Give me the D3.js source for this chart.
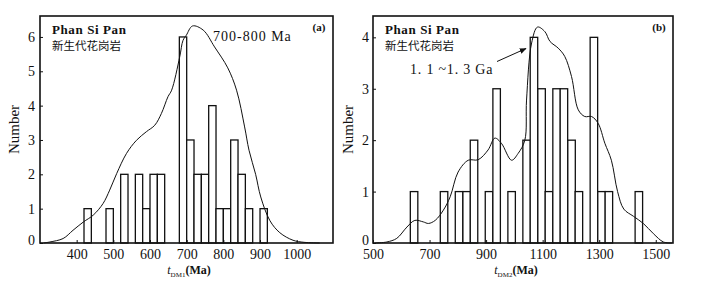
<!DOCTYPE html>
<html><head><meta charset="utf-8">
<script src="https://cdn.jsdelivr.net/npm/d3@7"></script>
<style>
body{margin:0;background:#fff;}
svg text{font-family:"Liberation Serif","Times New Roman",serif;fill:#111;}
</style></head>
<body><svg id="c" width="718" height="292"></svg>
<script>
// ---- Panel (a): tDM1 ----
const binStartA = [420,480,520,560,580,600,620,680,700,720,740,760,780,800,820,840,860,900];
const countA    = [1,1,2,2,1,2,2,6,3,2,2,4,1,1,3,2,1,1];
const binWidthA = 20;
const curveXA = [310,327,363,390,418,445,472,490,509,536,563,590,613,631,649,659,681,690,699,716,745,776,812,836,858,870,888,902,927,954,990,1020,1063];
const curveYA = [0,0.03,0.13,0.37,0.61,0.81,1.15,1.54,2.02,2.61,2.99,3.24,3.43,3.77,4.26,4.45,5.42,5.9,6.05,6.32,6.2,5.71,5.1,4.45,3.38,2.7,2.0,1.34,0.65,0.3,0.08,0.02,0];
const xTicksA = [400,500,600,700,800,900,1000];
const yTicksA = [0,1,2,3,4,5,6];

// ---- Panel (b): tDM2 ----
const binStartB = [632,738,791,818,844,897,924,977,1030,1056,1083,1109,1136,1162,1189,1215,1268,1295,1321,1427];
const countB    = [1,1,1,1,2,1,3,1,2,4,3,1,3,3,2,1,4,1,1,1];
const binWidthB = 26.5;
const curveXB = [508,549,584,620,648,678,696,720,749,773,801,837,872,907,931,954,990,1013,1037,1043,1061,1082,1108,1126,1155,1178,1202,1226,1249,1273,1296,1320,1343,1365,1387,1421,1456,1492,1527,1557];
const curveYB = [0,0.02,0.09,0.31,0.44,0.41,0.38,0.44,0.64,0.9,1.38,1.61,1.62,1.81,2.04,1.94,1.61,1.74,2.0,2.78,3.89,4.2,4.11,3.92,3.79,3.63,3.24,2.59,2.46,2.46,2.33,1.94,1.61,1.0,0.66,0.52,0.38,0.18,0.02,0];
const xTicksB = [500,700,900,1100,1300,1500];
const yTicksB = [0,1,2,3,4];

const svg = d3.select("#c");

function panel(o){
  const g = svg.append("g");
  const x = d3.scaleLinear().domain(o.xDomain).range([o.left,o.right]);
  const y = d3.scaleLinear().domain(o.yDomain).range([o.bottom,o.top]);
  // bars
  g.selectAll("rect.bar").data(o.starts.map((s,i)=>({s,c:o.counts[i]}))).enter()
    .append("rect")
    .attr("x",d=>x(d.s)).attr("width",d=>x(d.s+o.bw)-x(d.s))
    .attr("y",d=>y(d.c)).attr("height",d=>y(0)-y(d.c))
    .attr("fill","#fff").attr("stroke","#111").attr("stroke-width",1.3);
  // curve
  const pts = o.cx.map((v,i)=>[v,o.cy[i]]);
  g.append("path").datum(pts)
    .attr("d",d3.line().x(d=>x(d[0])).y(d=>y(d[1])).curve(d3.curveCatmullRom.alpha(0.5)))
    .attr("fill","none").attr("stroke","#111").attr("stroke-width",1);
  // axes (ticks inward, labels outside)
  const ax = d3.axisBottom(x).tickValues(o.xTicks).tickSize(-3).tickPadding(6).tickFormat(d3.format("d"));
  const ga = g.append("g").attr("transform",`translate(0,${o.bottom})`).call(ax);
  ga.select(".domain").remove();
  ga.selectAll("text").attr("font-size",14).attr("fill","#111");
  ga.selectAll("line").attr("stroke","#111");
  const ay = d3.axisLeft(y).tickValues(o.yTicks).tickSize(-3).tickPadding(o.ypad).tickFormat(d3.format("d"));
  const gy = g.append("g").attr("transform",`translate(${o.left},0)`).call(ay);
  gy.select(".domain").remove();
  gy.selectAll("text").attr("font-size",14).attr("fill","#111");
  gy.selectAll("line").attr("stroke","#111");
  gy.selectAll(".tick").filter(d=>d===0).select("text").attr("dy","0.1em");
  // frame
  g.append("rect").attr("x",o.left).attr("y",o.top).attr("width",o.right-o.left).attr("height",o.bottom-o.top)
    .attr("fill","none").attr("stroke","#111").attr("stroke-width",1.6);
  // y title
  g.append("text").attr("transform",`translate(${o.ytx},${(o.top+o.bottom)/2}) rotate(-90)`)
    .attr("text-anchor","middle").attr("font-size",15).text("Number");
  // x title
  const t = g.append("text").attr("x",o.xtx).attr("y",274).attr("text-anchor","middle");
  t.append("tspan").attr("font-style","italic").attr("font-size",12).text("t");
  t.append("tspan").attr("font-size",7).attr("dy",3).text(o.sub);
  t.append("tspan").attr("font-size",12).attr("font-weight","bold").attr("dy",-3).text("(Ma)");
  // labels
  g.append("text").attr("x",o.left+12).attr("y",34).attr("font-size",13).attr("font-weight","bold")
    .attr("letter-spacing",0.6).text("Phan Si Pan");
  g.append("text").attr("x",o.left+12).attr("y",50).attr("font-size",11.5)
    .style("font-family","'Noto Sans CJK SC'").text("新生代花岗岩");
  g.append("text").attr("x",o.right-14).attr("y",31).attr("text-anchor","middle").attr("font-size",11)
    .attr("font-weight","bold").text(o.tag);
  return {g,x,y};
}

const A = panel({left:40,right:333,top:16,bottom:243,xDomain:[300,1099],yDomain:[0,6.61],
  starts:binStartA,counts:countA,bw:binWidthA,cx:curveXA,cy:curveYA,xTicks:xTicksA,yTicks:yTicksA,
  ypad:5,ytx:19,xtx:189,sub:"DM1",tag:"(a)"});
A.g.append("text").attr("x",213).attr("y",40.5).attr("font-size",14).attr("letter-spacing",1).text("700-800 Ma");

const B = panel({left:373,right:673,top:16,bottom:243,xDomain:[500,1561],yDomain:[0,4.415],
  starts:binStartB,counts:countB,bw:binWidthB,cx:curveXB,cy:curveYB,xTicks:xTicksB,yTicks:yTicksB,
  ypad:4,ytx:353,xtx:516,sub:"DM2",tag:"(b)"});
B.g.append("text").attr("x",410).attr("y",73.5).attr("font-size",14).attr("letter-spacing",0.8).text("1. 1 ~1. 3 Ga");
svg.append("defs").append("marker").attr("id","ah").attr("viewBox","0 0 10 10").attr("refX",9).attr("refY",5)
  .attr("markerWidth",7).attr("markerHeight",7).attr("orient","auto")
  .append("path").attr("d","M0,1 L10,5 L0,9 z").attr("fill","#111");
B.g.append("line").attr("x1",497).attr("y1",61.5).attr("x2",526).attr("y2",48.5)
  .attr("stroke","#111").attr("stroke-width",1).attr("marker-end","url(#ah)");
</script></body></html>
